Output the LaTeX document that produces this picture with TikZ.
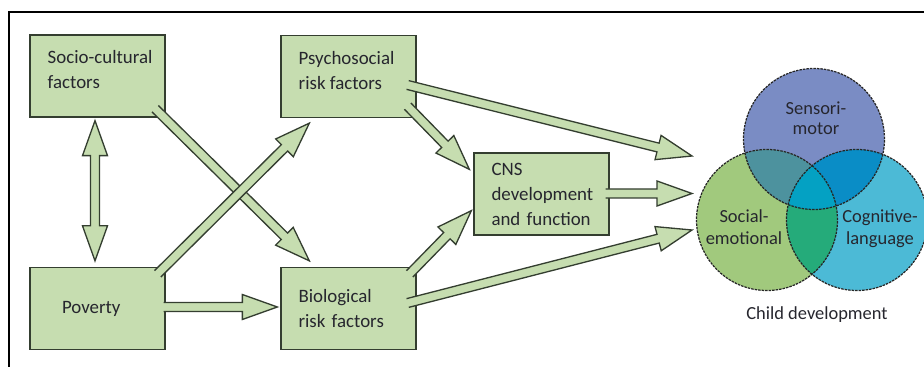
\documentclass[tikz,border=0pt]{standalone}
\usepackage{fontspec}
\setmainfont{Carlito}
\usepackage{tikz}
\usetikzlibrary{calc}
\definecolor{BoxFill}{HTML}{C6DDB0}
\definecolor{BoxLine}{HTML}{343E30}
\definecolor{Ink}{HTML}{26262E}
\definecolor{Sensori}{HTML}{7A8CC4}
\definecolor{Social}{HTML}{A1C97D}
\definecolor{Cognitive}{HTML}{4CBAD6}
\definecolor{SensSoc}{HTML}{4D929E}
\definecolor{SensCog}{HTML}{0A8DC6}
\definecolor{SocCog}{HTML}{25AB7A}
\definecolor{AllThree}{HTML}{04A1C3}
\newcommand{\boxfont}{\fontsize{10.75}{14.2}\selectfont}
% hollow wide arrow, open at its tail
\newcommand{\fatarrow}[2]{%
  \coordinate (fa-s) at #1;
  \coordinate (fa-t) at #2;
  \coordinate (fa-n) at ($(fa-t)!0.7cm!(fa-s)$);
  \filldraw[bigarrow] ($(fa-s)!0.09cm!90:(fa-t)$) -- ($(fa-n)!0.09cm!90:(fa-t)$)
    -- ($(fa-n)!0.25cm!90:(fa-t)$) -- (fa-t) -- ($(fa-n)!0.25cm!-90:(fa-t)$)
    -- ($(fa-n)!0.09cm!-90:(fa-t)$) -- ($(fa-s)!0.09cm!-90:(fa-t)$);
}
% same, with a head at both ends
\newcommand{\fatboth}[2]{%
  \coordinate (fb-a) at #1;
  \coordinate (fb-b) at #2;
  \coordinate (fb-m) at ($(fb-a)!0.7cm!(fb-b)$);
  \coordinate (fb-n) at ($(fb-b)!0.7cm!(fb-a)$);
  \filldraw[bigarrow] (fb-a) -- ($(fb-m)!0.25cm!90:(fb-b)$) -- ($(fb-m)!0.09cm!90:(fb-b)$)
    -- ($(fb-n)!0.09cm!90:(fb-b)$) -- ($(fb-n)!0.25cm!90:(fb-b)$) -- (fb-b)
    -- ($(fb-n)!0.25cm!-90:(fb-b)$) -- ($(fb-n)!0.09cm!-90:(fb-b)$)
    -- ($(fb-m)!0.09cm!-90:(fb-b)$) -- ($(fb-m)!0.25cm!-90:(fb-b)$) -- cycle;
}

\begin{document}
\begin{tikzpicture}[
  factor/.style={draw=BoxLine,fill=BoxFill,line width=0.75pt,minimum width=2.7cm,minimum height=1.64cm,text width=2.0cm,align=left,inner sep=0pt,font=\boxfont,text=Ink},
  toptext/.style={anchor=north west,align=left,inner sep=0pt,xshift=0.36cm,yshift=-0.32cm,font=\boxfont,text=Ink},
  bigarrow/.style={draw=BoxLine,fill=BoxFill,line width=0.75pt},
  ring/.style={draw=black!85,line width=0.7pt,dash pattern=on 1.4pt off 0.6pt},
  venn/.style={align=center,inner sep=0pt,text=Ink}
]
\useasboundingbox (0,0) rectangle (18.48,-7.34);
\draw[line width=1.7pt] (0.18,-7.6) -- (0.18,-0.24) -- (18.7,-0.24);

% child development
\coordinate (sm) at (16.28,-2.78);
\coordinate (se) at (15.34,-4.40);
\coordinate (cl) at (17.14,-4.40);
\fill[Sensori] (sm) circle (1.41);
\fill[Social] (se) circle (1.41);
\fill[Cognitive] (cl) circle (1.41);
\begin{scope}
  \clip (sm) circle (1.41);
  \fill[SensSoc] (se) circle (1.41);
  \fill[SensCog] (cl) circle (1.41);
\end{scope}
\begin{scope}
  \clip (se) circle (1.41);
  \fill[SocCog] (cl) circle (1.41);
  \clip (sm) circle (1.41);
  \fill[AllThree] (cl) circle (1.41);
\end{scope}
\foreach \c in {sm,se,cl} \draw[ring] (\c) circle (1.41);
\node[venn,font=\fontsize{10.5}{11.4}\selectfont] (sm-t) at (16.32,-2.36) {Sensori-\\motor};
\node[venn,font=\fontsize{10.5}{12.5}\selectfont] (se-t) at (14.88,-4.54) {Social-\\emotional};
\node[venn,font=\fontsize{10.5}{12.5}\selectfont] (cl-t) at (17.60,-4.58) {Cognitive-\\language};
\node[venn,font=\fontsize{10.5}{12.5}\selectfont] (dev) at (16.34,-6.30) {Child development};
\coordinate (dev-a) at (13.84,-3.12);
\coordinate (dev-b) at (13.84,-3.87);
\coordinate (dev-c) at (13.84,-4.60);

% factors
\node[factor,label={[toptext]north west:Socio-cultural\\factors}] (soc) at (1.95,-1.52) {};
\node[factor,label={[toptext]north west:Psychosocial\\risk factors}] (psy) at (6.97,-1.53) {};
\node[factor,text width=1.42cm] (pov) at (1.95,-6.17) {Poverty};
\node[factor] (bio) at (6.97,-6.17) {Biological\\risk factors};
\node[factor] (cns) at (10.83,-3.88) {CNS\\development\\and function};

\fatboth{([xshift=-0.05cm,yshift=-0.06cm]soc.south)}{([xshift=-0.05cm,yshift=0.12cm]pov.north)}
\fatarrow{([xshift=-0.21cm,yshift=0.18cm]soc.south east)}{([xshift=0.58cm,yshift=0.12cm]bio.north west)}
\fatarrow{([xshift=-0.16cm,yshift=-0.14cm]pov.north east)}{([xshift=0.58cm,yshift=-0.10cm]psy.south west)}
\fatarrow{([xshift=-0.04cm,yshift=0.03cm]pov.east)}{([xshift=-0.06cm,yshift=0.03cm]bio.west)}
\fatarrow{([xshift=-0.18cm,yshift=0.24cm]psy.south east)}{([xshift=-0.08cm,yshift=-0.34cm]cns.north west)}
\fatarrow{([xshift=-0.14cm,yshift=-0.14cm]bio.north east)}{([xshift=-0.04cm,yshift=0.50cm]cns.south west)}
\fatarrow{([xshift=-0.18cm,yshift=-0.17cm]psy.east)}{(dev-a)}
\fatarrow{([xshift=-0.08cm,yshift=0.01cm]cns.east)}{(dev-b)}
\fatarrow{([xshift=-0.18cm,yshift=0.11cm]bio.east)}{(dev-c)}
\end{tikzpicture}
\end{document}
